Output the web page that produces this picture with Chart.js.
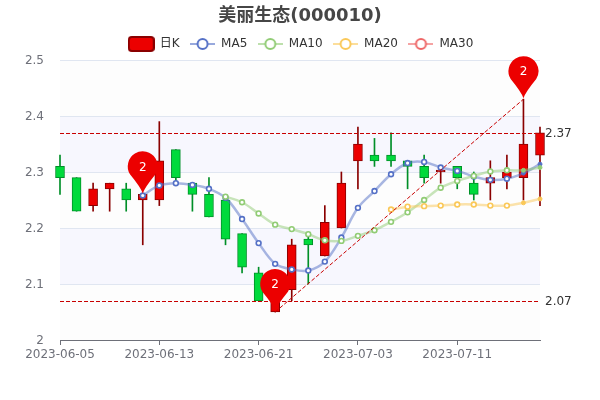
<!DOCTYPE html>
<html><head><meta charset="utf-8">
<style>html,body{margin:0;padding:0;background:#fff}#w{width:600px;height:400px}</style>
<script src="https://cdn.jsdelivr.net/npm/chart.js@4/dist/chart.umd.min.js"></script>
</head><body><div id="w"><canvas id="c" width="600" height="400"></canvas></div>
<script>
const titleText='美丽生态(000010)';
const dates=['2023-06-05','2023-06-06','2023-06-07','2023-06-08','2023-06-09','2023-06-12','2023-06-13','2023-06-14','2023-06-15','2023-06-16','2023-06-19','2023-06-20','2023-06-21','2023-06-26','2023-06-27','2023-06-28','2023-06-29','2023-06-30','2023-07-03','2023-07-04','2023-07-05','2023-07-06','2023-07-07','2023-07-10','2023-07-11','2023-07-12','2023-07-13','2023-07-14','2023-07-17','2023-07-18'];
const opens =[2.31,2.29,2.24,2.27,2.27,2.25,2.25,2.34,2.28,2.26,2.25,2.19,2.12,2.05,2.09,2.18,2.15,2.20,2.32,2.33,2.33,2.32,2.31,2.30,2.31,2.28,2.28,2.29,2.29,2.33];
const closes=[2.29,2.23,2.27,2.28,2.25,2.26,2.32,2.29,2.26,2.22,2.18,2.13,2.07,2.10,2.17,2.17,2.21,2.28,2.35,2.32,2.32,2.31,2.29,2.30,2.29,2.26,2.29,2.30,2.35,2.37];
const lows  =[2.26,2.23,2.23,2.23,2.23,2.17,2.24,2.28,2.23,2.22,2.17,2.12,2.07,2.05,2.07,2.10,2.15,2.20,2.27,2.31,2.31,2.27,2.28,2.28,2.27,2.25,2.25,2.27,2.25,2.24];
const highs =[2.33,2.29,2.28,2.28,2.28,2.26,2.39,2.34,2.28,2.29,2.25,2.19,2.13,2.11,2.18,2.19,2.24,2.30,2.38,2.36,2.37,2.32,2.33,2.31,2.31,2.30,2.32,2.33,2.43,2.38];
const ma5 =[null,null,null,null,null,2.258,2.276,2.28,2.277,2.27,2.254,2.216,2.173,2.136,2.126,2.124,2.14,2.183,2.236,2.266,2.296,2.316,2.318,2.308,2.302,2.292,2.286,2.288,2.298,2.314];
const ma10=[null,null,null,null,null,null,null,null,null,null,2.256,2.246,2.226,2.206,2.198,2.189,2.178,2.177,2.186,2.196,2.211,2.228,2.25,2.272,2.284,2.293,2.301,2.303,2.303,2.308];
const ma20=[null,null,null,null,null,null,null,null,null,null,null,null,null,null,null,null,null,null,null,null,2.233,2.238,2.239,2.24,2.242,2.242,2.24,2.24,2.245,2.252];
const ma30=dates.map(()=>null);
const yTicks=[2,2.1,2.2,2.3,2.4,2.5];
const markValues=[2.37,2.07];
const pinIndexes=[5,13,28];
const pinValues=[2.26,2.05,2.43];
const pinLabels=['2','2','2'];
const trend=dates.map((d,i)=>i===13?2.05:i===28?2.43:null);
const legendNames=['日K','MA5','MA10','MA20','MA30'];

const FONT="'DejaVu Sans','Noto Sans CJK SC',sans-serif";
const UP='#ec0000',UPB='#8a0000',DN='#00da3c',DNB='#008f28';
const C5='#5470c6',C10='#91cc75',C20='#fac858',C30='#ee6666',MARK='#c80000';
const rgba=(h,a)=>{const n=parseInt(h.slice(1),16);return `rgba(${n>>16},${(n>>8)&255},${n&255},${a})`;};
const isUp=i=>closes[i]>=opens[i];
const lastIdx=dates.length-2;

function iconCandle(){const c=document.createElement('canvas');c.width=27;c.height=16;const x=c.getContext('2d');
 x.beginPath();x.roundRect(1,1,25,14,3);x.fillStyle=UP;x.fill();x.lineWidth=2;x.strokeStyle=UPB;x.stroke();return c;}
function iconLine(col){const c=document.createElement('canvas');c.width=25;c.height=16;const x=c.getContext('2d');
 x.strokeStyle=rgba(col,.6);x.lineWidth=2;x.beginPath();x.moveTo(0,8);x.lineTo(25,8);x.stroke();
 x.beginPath();x.arc(12.5,8,5,0,Math.PI*2);x.fillStyle='#fff';x.fill();x.strokeStyle=col;x.lineWidth=2;x.stroke();return c;}

function maSet(label,data,col,order){return {type:'line',label,data,order,clip:false,borderColor:rgba(col,.5),borderWidth:2.5,tension:.35,
 pointRadius:dates.map((d,i)=>i>=lastIdx?2:2.4),pointBorderWidth:dates.map((d,i)=>i>=lastIdx?1:1.6),
 pointBackgroundColor:dates.map((d,i)=>i>=lastIdx?col:'#fff'),pointBorderColor:col};}

const bandsPlugin={id:'bands',
 afterLayout(ch){ch.legend.left+=1;ch.legend.right+=1;},
 beforeDatasetsDraw(ch){const {ctx,chartArea:a,scales:{y}}=ch;
 for(let i=0;i<yTicks.length-1;i++){const t=y.getPixelForValue(yTicks[i+1]),b=y.getPixelForValue(yTicks[i]);
  ctx.fillStyle=(i%2===1)?'rgba(200,200,250,0.14)':'rgba(250,250,250,0.3)';ctx.fillRect(a.left,t,a.right-a.left,b-t);}
 ctx.save();ctx.strokeStyle='#e0e6f1';ctx.lineWidth=1;
 yTicks.slice(1).forEach(v=>{const p=Math.round(y.getPixelForValue(v))+.5;ctx.beginPath();ctx.moveTo(a.left,p);ctx.lineTo(a.right,p);ctx.stroke();});
 ctx.restore();}};
const marksPlugin={id:'marks',afterDatasetsDraw(ch){const {ctx,scales:{x,y},chartArea:a}=ch;ctx.save();
 ctx.strokeStyle=MARK;ctx.lineWidth=1;ctx.setLineDash([4,2]);
 markValues.forEach(v=>{const p=Math.round(y.getPixelForValue(v))+.5;ctx.beginPath();ctx.moveTo(a.left,p);ctx.lineTo(a.right,p);ctx.stroke();});
 ctx.setLineDash([]);
 ctx.font='12px '+FONT;ctx.fillStyle='#333';ctx.textAlign='left';ctx.textBaseline='middle';
 markValues.forEach(v=>ctx.fillText(String(v),a.right+5,y.getPixelForValue(v)+1));
 pinIndexes.forEach((ix,k)=>{const px=x.getPixelForValue(ix),py=y.getPixelForValue(pinValues[k]);
  const cy=py-28,r=15,an=0.55;
  const sx=r*Math.cos(an),sy=r*Math.sin(an);
  ctx.beginPath();ctx.moveTo(px,py-1);
  ctx.quadraticCurveTo(px-2,cy+21,px-sx,cy+sy);
  ctx.arc(px,cy,r,Math.PI-an,an,false);
  ctx.quadraticCurveTo(px+2,cy+21,px,py-1);
  ctx.closePath();ctx.fillStyle=UP;ctx.fill();
  ctx.fillStyle='#fff';ctx.textAlign='center';ctx.fillText(pinLabels[k],px,cy+1);
 });
 ctx.restore();}};

new Chart(document.getElementById('c'),{
 type:'bar',
 data:{labels:dates,datasets:[
  {label:'影线',data:dates.map((d,i)=>[lows[i],highs[i]]),order:20,grouped:false,clip:false,barThickness:1,
   backgroundColor:dates.map((d,i)=>isUp(i)?UPB:DNB),borderWidth:0},
  {label:'日K',data:dates.map((d,i)=>[opens[i],closes[i]]),order:19,grouped:false,clip:false,barThickness:9,minBarLength:2,borderSkipped:false,
   backgroundColor:dates.map((d,i)=>isUp(i)?UP:DN),borderColor:dates.map((d,i)=>isUp(i)?UPB:DNB),borderWidth:1},
  maSet('MA5',ma5,C5,8),maSet('MA10',ma10,C10,7),maSet('MA20',ma20,C20,6),maSet('MA30',ma30,C30,5),
  {type:'line',label:'T',data:trend,spanGaps:true,order:3,borderColor:MARK,borderWidth:1,borderDash:[4,2],pointRadius:0},
 ]},
 plugins:[bandsPlugin,marksPlugin],
 options:{responsive:false,animation:false,
  plugins:{
   tooltip:{enabled:false},
   title:{display:true,text:titleText,color:'#464646',font:{family:FONT,size:18,weight:'bold'},padding:{top:5.9,bottom:0}},
   legend:{display:true,position:'top',onClick:null,labels:{
    usePointStyle:true,pointStyleWidth:25,boxHeight:14,padding:10.5,color:'#333',font:{family:FONT,size:12},
    generateLabels:()=>legendNames.map((n,i)=>({text:n,fontColor:'#333',hidden:false,datasetIndex:i+1,lineWidth:0,
      strokeStyle:'transparent',fillStyle:'transparent',
      pointStyle:i===0?iconCandle():iconLine([C5,C10,C20,C30][i-1])}))
   }}
  },
  scales:{
   x:{type:'category',offset:false,stacked:false,
    afterFit(s){s.height=60;},
    afterBuildTicks(s){s.ticks=s.ticks.filter(t=>t.value%6===0);},
    grid:{display:true,offset:false,drawOnChartArea:false,tickLength:5,tickColor:'#6e7079'},
    border:{display:true,color:'#6e7079',width:1},
    ticks:{autoSkip:false,maxRotation:0,minRotation:0,color:'#6e7079',padding:3,font:{family:FONT,size:12}}},
   y:{min:2,max:2.5,
    afterFit(s){s.width=60;},
    afterBuildTicks(s){s.ticks=yTicks.map(v=>({value:v}));},
    grid:{display:false},border:{display:false},
    ticks:{color:'#6e7079',padding:8,labelOffset:1,font:{family:FONT,size:12},callback:v=>String(+(+v).toFixed(1))}},
   side:{type:'linear',position:'right',min:0,max:1,afterFit(s){s.width=60;},
    grid:{display:false},border:{display:false},ticks:{display:false}}
  }
 }
});
</script></body></html>
